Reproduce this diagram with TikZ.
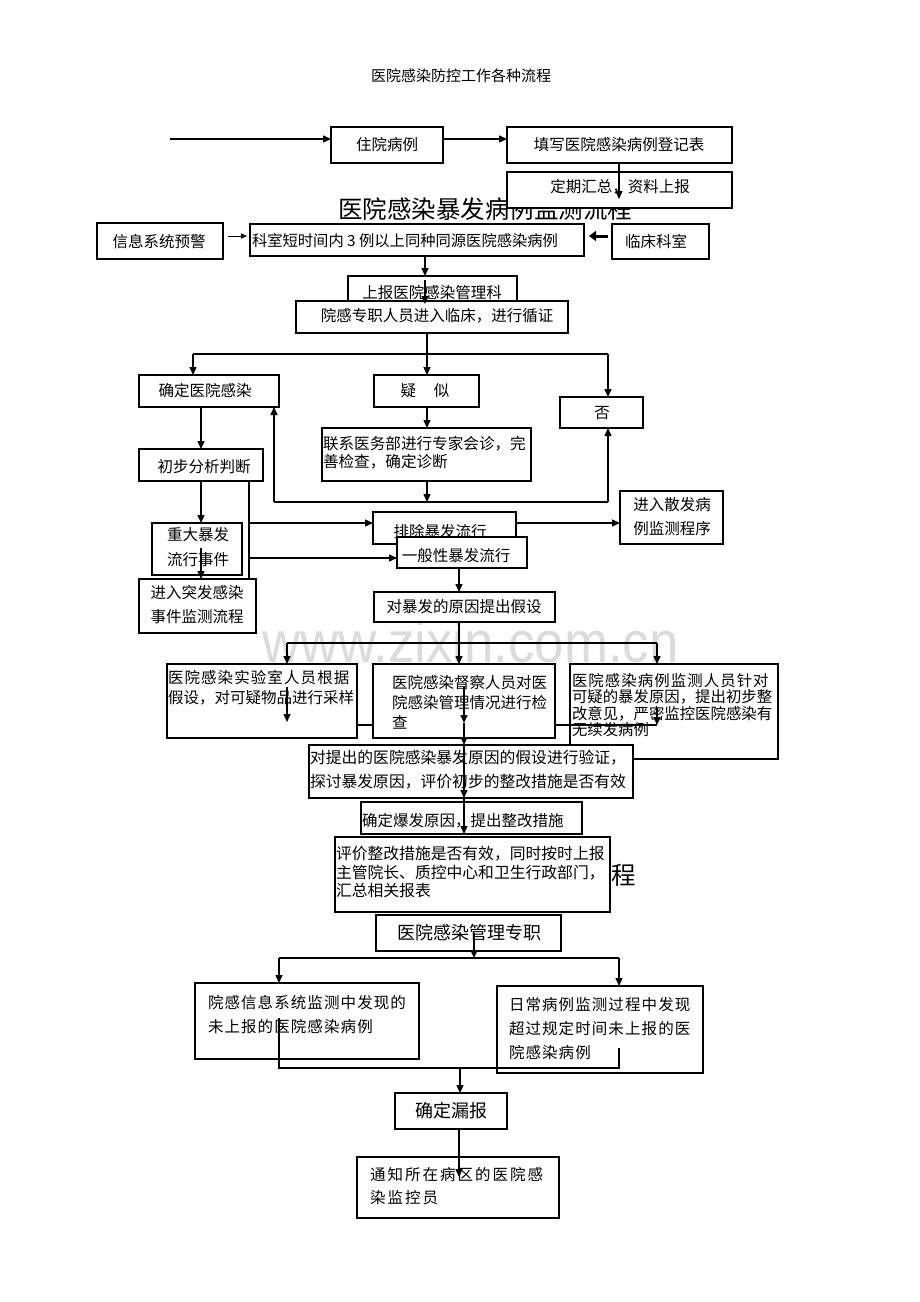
\documentclass[tikz,border=0pt]{standalone}
\usepackage{fontspec}
\setmainfont{Noto Sans CJK SC}
\newfontfamily\wmfont{Liberation Sans}
\usetikzlibrary{arrows.meta}
\newcommand\fs[2]{\fontsize{#1}{#2}\selectfont}
\newcommand\lsp[2]{{\addfontfeature{LetterSpace=#1}#2}}
\newcommand\bx[5]{\node[box, minimum width={(#4-#2)*1pt}, minimum height={(#5-#3)*1pt}] (#1) at ({(#2+#4)/2},{(#3+#5)/2}) {};}
\tikzset{
  box/.style={draw=black, line width=1.2pt, fill=white, inner sep=0pt, outer sep=0pt},
  tx/.style={inner sep=0pt, outer sep=0pt, font=\fs{15.5}{18}},
  ln/.style={line width=1.4pt},
  arr/.style={line width=1.4pt, -{Triangle[length=8pt,width=7pt]}},
  thinarr/.style={line width=0.9pt, -{Triangle[length=6pt,width=5pt]}},
  thickarr/.style={line width=3pt, -{Triangle[length=7pt,width=10pt]}},
}
\begin{document}
\begin{tikzpicture}[x=1pt,y=-1pt]
\useasboundingbox (0,0) rectangle (920,1302);
\fill[white] (0,0) rectangle (920,1302);

% watermark
\node[inner sep=0pt, anchor=base west, text=black!14, text height=40pt, text depth=0pt, font=\wmfont\fontsize{58}{60}\selectfont] (wm) at (262,662) {\scalebox{0.91}[1]{www.zixin.com.cn}};

% titles
\node[tx, font=\fs{15}{18}] (title) at (461,76) {医院感染防控工作各种流程};
\node[tx, anchor=west, font=\fs{24.5}{28}] (title1) at (338,209.5) {医院感染暴发病例监测流程};
\node[tx, anchor=west, font=\fs{24.5}{28}] (title2) at (611,875) {程};

% top row
\bx{zy}{331}{127}{443}{163}
\node[tx] (zy-t) at (387,145) {住院病例};
\bx{tx}{507}{127}{732}{163}
\node[tx] (tx-t) at (619,145) {填写医院感染病例登记表};
\bx{dq}{507}{172}{732}{208}
\node[tx] (dq-t) at (620,187) {定期汇总，资料上报};

\bx{xx}{97}{223}{223}{259}
\node[tx] (xx-t) at (159,242) {信息系统预警};
\bx{ks}{250}{224}{584}{256}
\node[tx, anchor=west, font=\fs{15.3}{18}] (ks-t) at (252,241) {科室短时间内 3 例以上同种同源医院感染病例};
\bx{lc}{612}{224}{709}{259}
\node[tx] (lc-t) at (656,242) {临床科室};

\bx{sb}{348}{276}{517}{310}
\node[tx] (sb-t) at (432,293) {上报医院感染管理科};
\bx{yg}{296}{301}{568}{333}
\node[tx] (yg-t) at (437,316) {院感专职人员进入临床，进行循证};

% decision row
\bx{qd}{139}{375}{279}{407}
\node[tx] (qd-t) at (205,391) {确定医院感染};
\bx{ys}{374}{375}{479}{407}
\node[tx] (ys-t) at (425,391) {疑\hspace{18pt}似};
\bx{fo}{560}{397}{643}{428}
\node[tx] (fo-t) at (602,413) {否};
\bx{lx}{322}{428}{531}{481}
\node[tx, anchor=west, align=left, font=\fs{15.6}{18}] (lx-t) at (323,453) {联系医务部进行专家会诊，完\\善检查，确定诊断};

\bx{cb}{139}{449}{263}{481}
\node[tx] (cb-t) at (204,467) {初步分析判断};
\bx{zd}{152}{523}{242}{575}
\node[tx, align=center, font=\fs{15.5}{25}] (zd-t) at (198,547.5) {重大暴发\\流行事件};
\bx{jr}{139}{579}{256}{633}
\node[tx, align=center, font=\fs{15.5}{24}] (jr-t) at (197,605) {进入突发感染\\事件监测流程};

\bx{pc}{373}{512}{516}{544}
\node[tx] (pc-t) at (440,532) {排除暴发流行};
\bx{yb}{397}{537}{527}{568}
\node[tx] (yb-t) at (456,556) {一般性暴发流行};
\bx{js}{620}{491}{723}{544}
\node[tx, align=center, font=\fs{15.5}{24}] (js-t) at (672,517) {进入散发病\\例监测程序};

\bx{dbf}{374}{592}{555}{622}
\node[tx] (dbf-t) at (464,607) {对暴发的原因提出假设};

% three parallel boxes
\bx{sy}{167}{664}{357}{738}
\node[tx, anchor=west, align=left, font=\fs{15.5}{20}] (sy-t) at (168,688) {\lsp{7}{医院感染实验室人员根据}\\假设，对可疑物品进行采样};
\bx{dc}{373}{664}{555}{738}
\node[tx, anchor=west, align=left, font=\fs{15.5}{20}] (dc-t) at (392,702) {医院感染督察人员对医\\院感染管理情况进行检\\查};
\bx{bl}{570}{664}{778}{759}
\node[tx, anchor=west, align=left, font=\fs{15.4}{16.5}] (bl-t) at (572,705) {\lsp{7}{医院感染病例监测人员针对}\\可疑的暴发原因，提出初步整\\改意见，严密监控医院感染有\\无续发病例};

\bx{yz}{309}{745}{633}{798}
\node[tx, anchor=west, align=left, font=\fs{15.8}{24}] (yz-t) at (310,770) {对提出的医院感染暴发原因的假设进行验证，\\探讨暴发原因，评价初步的整改措施是否有效};
\bx{qdbf}{361}{802}{582}{834}
\node[tx, anchor=west] (qdbf-t) at (362,821) {确定爆发原因，提出整改措施};
\bx{pj}{335}{837}{610}{912}
\node[tx, anchor=west, align=left, font=\fs{15.8}{18.5}] (pj-t) at (336,872) {评价整改措施是否有效，同时按时上报\\主管院长、质控中心和卫生行政部门，\\汇总相关报表};

% bottom part
\bx{gl}{376}{915}{561}{951}
\node[tx, font=\fs{18}{20}] (gl-t) at (469,933) {医院感染管理专职};
\bx{xt}{195}{983}{419}{1059}
\node[tx, anchor=west, align=left, font=\fs{15.5}{24}] (xt-t) at (208,1015) {\lsp{7}{院感信息系统监测中发现的}\\\lsp{7}{未上报的医院感染病例}};
\bx{rc}{497}{986}{703}{1073}
\node[tx, anchor=west, align=left, font=\fs{15.5}{24}] (rc-t) at (509,1029) {\lsp{7}{日常病例监测过程中发现}\\\lsp{7}{超过规定时间未上报的医}\\\lsp{7}{院感染病例}};
\bx{qdlb}{395}{1093}{507}{1129}
\node[tx, font=\fs{18}{20}] (qdlb-t) at (451,1111) {确定漏报};
\bx{tz}{357}{1157}{559}{1218}
\node[tx, anchor=west, align=left, font=\fs{15.5}{23}] (tz-t) at (370,1186.5) {\lsp{13}{通知所在病区的医院感}\\\lsp{13}{染监控员}};

% ---------- connectors ----------
\coordinate (s0) at (170,139);
\draw[arr] (s0) -- (s0 -| zy.west);
\draw[arr] (zy.east |- s0) -- (tx.west |- s0);
\coordinate (c1) at (619,199);
\draw[arr] (c1 |- tx.south) -- (c1);
\coordinate (c2a) at (228,236); \coordinate (c2b) at (247,236);
\draw[thinarr] (c2a) -- (c2b);
\coordinate (c3a) at (608,236); \coordinate (c3b) at (589,236);
\draw[thickarr] (c3a) -- (c3b);
\coordinate (x425) at (425,0);
\draw[arr] (x425 |- ks.south) -- (x425 |- sb.north);
\coordinate (c5a) at (425,280); \coordinate (c5b) at (425,304);
\draw[arr] (c5a) -- (c5b);

\coordinate (b1) at (427,354);
\coordinate (b1L) at (193,354); \coordinate (b1R) at (608,354);
\draw[ln] (b1 |- yg.south) -- (b1);
\draw[ln] (b1L) -- (b1R);
\draw[arr] (b1L) -- (b1L |- qd.north);
\draw[arr] (b1) -- (b1 |- ys.north);
\draw[arr] (b1R) -- (b1R |- fo.north);
\draw[arr] (b1 |- ys.south) -- (b1 |- lx.north);
\coordinate (r0) at (427,502);
\coordinate (rL) at (274,502); \coordinate (rR) at (608,502);
\draw[arr] (r0 |- lx.south) -- (r0);
\draw[ln] (rL) -- (rR);
\draw[arr] (rL) -- (rL |- qd.south);
\draw[arr] (rR) -- (rR |- fo.south);

\coordinate (x201) at (201,0);
\draw[arr] (x201 |- qd.south) -- (x201 |- cb.north);
\draw[arr] (x201 |- cb.south) -- (x201 |- zd.north);
\coordinate (c6) at (201,548);
\draw[arr] (c6) -- (c6 |- jr.north);
\coordinate (v0) at (249,0); \coordinate (v2) at (249,580);
\draw[ln] (v0 |- cb.south) -- (v2);
\coordinate (c7) at (249,523); \coordinate (c8) at (249,558);
\draw[arr] (c7) -- (c7 -| pc.west);
\draw[arr] (c8) -- (c8 -| yb.west);
\draw[arr] (pc.east |- c7) -- (js.west |- c7);
\coordinate (x459) at (459,0);
\draw[arr] (x459 |- yb.south) -- (x459 |- dbf.north);

\coordinate (b2) at (459,643);
\coordinate (b2L) at (287,643); \coordinate (b2R) at (657,643);
\draw[ln] (b2 |- dbf.south) -- (b2);
\draw[ln] (b2L) -- (b2R);
\draw[arr] (b2L) -- (b2L |- sy.north);
\draw[arr] (b2) -- (b2 |- dc.north);
\draw[arr] (b2R) -- (b2R |- bl.north);

\coordinate (m1) at (287,687); \coordinate (m1b) at (287,722);
\draw[arr] (m1) -- (m1b);
\coordinate (my) at (0,725);
\draw[ln] (sy.east |- my) -- (dc.west |- my);
\coordinate (m3) at (657,725);
\draw[ln] (dc.east |- my) -- (m3);
\coordinate (m2a) at (657,708);
\draw[arr] (m2a) -- (m2a |- m3);
\coordinate (k1) at (464,687); \coordinate (k2) at (464,723);
\draw[arr] (k1) -- (k2);
\draw[arr] (k2) -- (k2 |- yz.north);
\draw[arr] (k2 |- yz.north) -- (k2 |- yz.south);
\draw[arr] (k2 |- yz.south) -- (k2 |- qdbf.south);

\coordinate (g1) at (474,933); \coordinate (b3) at (474,958);
\draw[arr] (g1) -- (b3);
\coordinate (b3L) at (279,958); \coordinate (b3R) at (619,958);
\draw[ln] (b3L) -- (b3R);
\draw[arr] (b3L) -- (b3L |- xt.north);
\draw[arr] (b3R) -- (b3R |- rc.north);
\coordinate (mg1) at (279,1018); \coordinate (mg2) at (279,1068);
\coordinate (mg3) at (619,1068); \coordinate (mg4) at (619,1048);
\draw[ln] (mg1) -- (mg2) -- (mg3) -- (mg4);
\coordinate (mg5) at (460,1068);
\draw[arr] (mg5) -- (mg5 |- qdlb.north);
\coordinate (n1) at (459,1177);
\draw[arr] (n1 |- qdlb.south) -- (n1);
\end{tikzpicture}
\end{document}
